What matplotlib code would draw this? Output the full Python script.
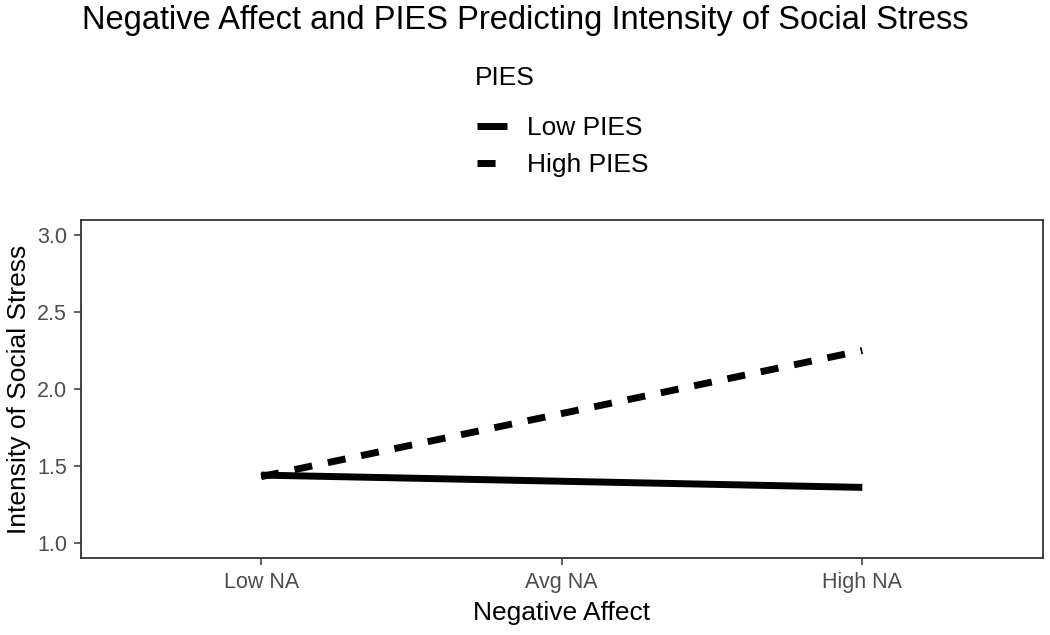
import matplotlib.pyplot as plt
import numpy as np

plt.rcParams['font.family'] = ['Liberation Sans', 'DejaVu Sans']

# predicted intensity of social stress at three levels of negative affect
na_levels = ['Low NA', 'Avg NA', 'High NA']
low_pies = [1.44, 1.40, 1.36]
high_pies = [1.43, 1.84, 2.25]
series_names = ['Low PIES', 'High PIES']
y_ticks = [1.0, 1.5, 2.0, 2.5, 3.0]

fig = plt.figure(figsize=(10.5, 6.35), dpi=100)
ax = fig.add_axes([0.077, 0.121, 0.916, 0.533])

xs = np.arange(1, len(na_levels) + 1)
ax.plot(xs, low_pies, color='black', lw=5, solid_capstyle='butt',
        label=series_names[0])
ax.plot(xs, high_pies, color='black', lw=5, linestyle=(0, (2.6, 2.3)),
        dash_capstyle='butt', label=series_names[1])

ax.set_xlim(0.4, 3.6)
ax.set_ylim(0.9, 3.1)
ax.set_xticks(xs)
ax.set_xticklabels(na_levels)
ax.set_yticks(y_ticks)
ax.set_yticklabels(['{:.1f}'.format(v) for v in y_ticks])
ax.tick_params(labelsize=15.5, labelcolor='#4d4d4d', color='#333333',
               length=5, width=1.1, pad=5)
for s in ax.spines.values():
    s.set_color('#333333')
    s.set_linewidth(1.3)

ax.set_xlabel('Negative Affect', fontsize=19, labelpad=6)
ax.set_ylabel('Intensity of Social Stress', fontsize=19, labelpad=4)

fig.text(0.078, 0.967, 'Negative Affect and PIES Predicting Intensity of Social Stress',
         fontsize=23.5, va='center', ha='left')

# legend title placed by hand, entries below it
fig.text(475 / 1050, 1 - 78 / 635, 'PIES', fontsize=19, va='center', ha='left')
leg = fig.legend(loc='upper left', bbox_to_anchor=(0.454, 1 - 116 / 635),
                 frameon=False, fontsize=19, borderaxespad=0, borderpad=0,
                 handlelength=1.15, handletextpad=0.75, labelspacing=0.51)

fig.savefig('out.png', dpi=100)
